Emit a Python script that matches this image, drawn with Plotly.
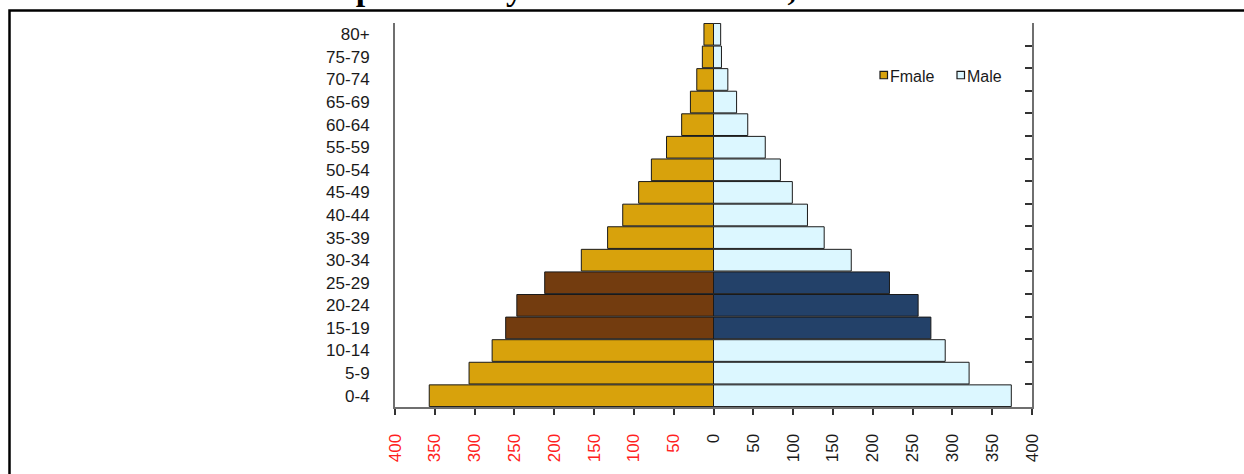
import plotly.graph_objects as go

# ---- data (thousands) ----
age_groups = ["0-4", "5-9", "10-14", "15-19", "20-24", "25-29", "30-34", "35-39",
              "40-44", "45-49", "50-54", "55-59", "60-64", "65-69", "70-74", "75-79", "80+"]
female = [357, 307, 278, 261, 247, 212, 166, 133, 114, 94, 78, 59, 40, 29, 21, 14, 12]
male = [374, 321, 291, 273, 257, 221, 173, 139, 118, 99, 84, 65, 43, 29, 18, 10, 9]
highlight = ["15-19", "20-24", "25-29"]
tick_values = [-400, -350, -300, -250, -200, -150, -100, -50, 0, 50, 100, 150, 200, 250, 300, 350, 400]
legend_names = ["Fmale", "Male"]

title_text = "Population Pyramid in Palestine, Mid 2017"

# ---- style ----
F_COL, F_HI = "#D8A20C", "#733C0F"
M_COL, M_HI = "#DCF7FF", "#234169"
AXIS_COL = "#6f6f6f"
FONT = "Liberation Sans, Arial, sans-serif"

f_colors = [F_HI if a in highlight else F_COL for a in age_groups]
m_colors = [M_HI if a in highlight else M_COL for a in age_groups]

tick_text = []
for v in tick_values:
    if v < 0:
        tick_text.append(f'<span style="color:#ff2020">{abs(v)}</span>')
    else:
        tick_text.append(str(v))

fig = go.Figure()
fig.add_trace(go.Bar(
    name=legend_names[0], y=age_groups, x=[-v for v in female], orientation="h",
    marker=dict(color=f_colors, line=dict(color="#1a1a1a", width=1)),
    customdata=female, hovertemplate="%{y}: %{customdata}<extra>Fmale</extra>",
    showlegend=False,
))
fig.add_trace(go.Bar(
    name=legend_names[1], y=age_groups, x=male, orientation="h",
    marker=dict(color=m_colors, line=dict(color="#1a1a1a", width=1)),
    hovertemplate="%{y}: %{x}<extra>Male</extra>",
    showlegend=False,
))
# invisible helper trace for the right-hand axis
fig.add_trace(go.Scatter(
    x=[0] * len(age_groups), y=age_groups, yaxis="y2", mode="markers",
    marker=dict(opacity=0), showlegend=False, hoverinfo="skip",
))

L, R, T, B = 395, 212, 23, 62
W, H = 1244, 474
pw, ph = W - L - R, H - T - B


def px_x(p):
    return (p - L) / pw


def px_y(p):
    return (H - B - p) / ph


# frame, title and a compact manual legend (like the original)
shapes = [dict(
    type="rect", xref="paper", yref="paper",
    x0=px_x(9.5), x1=px_x(1300), y0=px_y(520), y1=px_y(10.3),
    line=dict(color="black", width=2.5), fillcolor="rgba(0,0,0,0)", layer="above",
)]
annotations = [dict(
    text=f"<b>{title_text}</b>", xref="paper", yref="paper",
    x=px_x(629), y=px_y(9), xanchor="center", yanchor="bottom", showarrow=False,
    font=dict(family="Liberation Serif, Times New Roman, serif", size=34, color="black"),
)]
leg_x = [880, 957]
leg_cols = [F_COL, M_COL]
for name, lx, col in zip(legend_names, leg_x, leg_cols):
    shapes.append(dict(
        type="rect", xref="paper", yref="paper",
        x0=px_x(lx), x1=px_x(lx + 7.5), y0=px_y(79.5), y1=px_y(72),
        line=dict(color="#1a1a1a", width=1.2), fillcolor=col,
    ))
    annotations.append(dict(
        text=name, xref="paper", yref="paper", x=px_x(lx + 8), y=px_y(77.5),
        xanchor="left", yanchor="middle", showarrow=False,
        font=dict(family=FONT, size=16, color="#1a1a1a"),
    ))

fig.update_layout(
    width=W, height=H,
    margin=dict(l=L, r=R, t=T, b=B),
    paper_bgcolor="white", plot_bgcolor="white",
    barmode="relative", bargap=0.04,
    font=dict(family=FONT, size=14, color="#1a1a1a"),
    showlegend=False,
    xaxis=dict(
        range=[-400, 400], tickvals=tick_values, ticktext=tick_text,
        tickangle=-90, ticks="outside", ticklen=6, tickwidth=1.5, tickcolor="#333",
        showline=True, linecolor=AXIS_COL, linewidth=2,
        showgrid=False, zeroline=False, ticklabelstandoff=12,
        tickfont=dict(family=FONT, size=17, color="#1a1a1a"),
        fixedrange=True,
    ),
    yaxis=dict(
        type="category", categoryorder="array", categoryarray=age_groups,
        range=[-0.5, len(age_groups) - 0.5],
        ticks="", showline=True, linecolor=AXIS_COL, linewidth=2,
        showgrid=False, zeroline=False, ticklabelstandoff=20,
        tickfont=dict(family=FONT, size=17, color="#1a1a1a"),
        fixedrange=True,
    ),
    yaxis2=dict(
        type="category", categoryorder="array", categoryarray=age_groups,
        range=[-0.5, len(age_groups) - 0.5], overlaying="y", side="right", anchor="x",
        ticks="inside", tickson="boundaries", ticklen=7, tickwidth=1.5, tickcolor="#333",
        showticklabels=False, showline=True, linecolor=AXIS_COL, linewidth=2,
        showgrid=False, zeroline=False, fixedrange=True,
    ),
    shapes=shapes,
    annotations=annotations,
)

fig.write_html(
    "out.html",
    config={"displayModeBar": False},
    post_script="document.body.style.margin='0px';document.body.style.padding='0px';",
)
